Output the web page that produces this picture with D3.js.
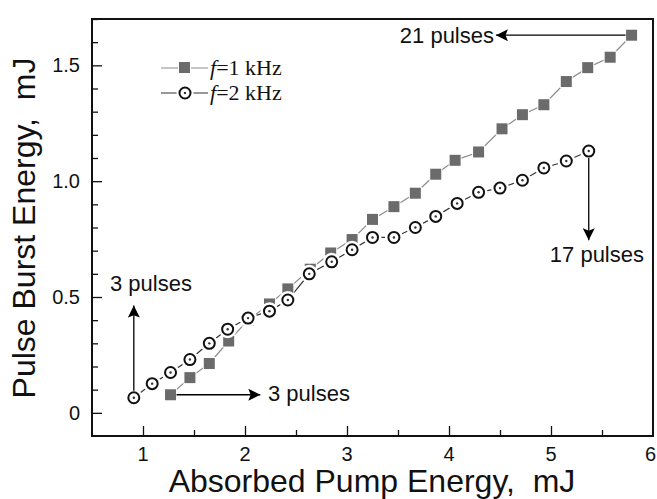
<!DOCTYPE html>
<html>
<head>
<meta charset="utf-8">
<script src="https://cdn.jsdelivr.net/npm/d3@7"></script>
<style>
body{margin:0;background:#fff;}
text{font-family:Arial,"Liberation Sans",sans-serif;fill:#111;white-space:pre;}
</style>
</head>
<body>
<svg id="chart" width="657" height="499"></svg>
<script>
// f = 1 kHz (squares)
var x1k = [1.27,1.46,1.65,1.84,2.03,2.24,2.42,2.64,2.84,3.05,3.25,3.46,3.67,3.87,4.06,4.29,4.52,4.72,4.93,5.15,5.36,5.58,5.79];
var y1k = [0.078,0.152,0.213,0.31,0.40,0.47,0.535,0.62,0.69,0.748,0.835,0.89,0.948,1.03,1.09,1.126,1.226,1.287,1.33,1.43,1.49,1.535,1.63];
// f = 2 kHz (circles)
var x2k = [0.91,1.09,1.27,1.46,1.65,1.83,2.03,2.24,2.42,2.63,2.85,3.05,3.25,3.46,3.67,3.87,4.08,4.29,4.50,4.72,4.93,5.15,5.37];
var y2k = [0.065,0.126,0.174,0.230,0.300,0.361,0.409,0.439,0.487,0.600,0.652,0.704,0.757,0.757,0.800,0.848,0.904,0.952,0.970,1.004,1.057,1.087,1.130];
var xTicks = [1,2,3,4,5,6];
var yTicks = [0,0.5,1.0,1.5];
var yTickLabels = ["0","0.5","1.0","1.5"];

var W=657,H=499;
var m={left:92,top:19,right:4,bottom:63};
var svg=d3.select("#chart");
var x=d3.scaleLinear().domain([0.5,6]).range([m.left,W-m.right]);
var y=d3.scaleLinear().domain([-0.1,1.7]).range([H-m.bottom,m.top]);

// axes, ticks inward
var xAx=d3.axisBottom(x).tickValues(d3.range(1,6.01,0.5)).tickSize(-8).tickFormat("");
var gx=svg.append("g").attr("transform","translate(0,"+(H-m.bottom)+")").call(xAx);
gx.selectAll(".tick line").attr("y2",function(d){return Math.abs(d%1)<1e-6?-10:-6;}).attr("stroke","#111").attr("stroke-width",1.3);
gx.select(".domain").remove();
gx.selectAll(".tick").filter(function(d){return d>=5.99;}).remove();
svg.selectAll("text.xl").data(xTicks).enter().append("text").attr("class","xl")
  .attr("x",function(d){return d==6?W-1:x(d);}).attr("y",461)
  .attr("text-anchor",function(d){return d==6?"end":"middle";}).attr("font-size","20px").text(function(d){return d;});

var yAx=d3.axisLeft(y).tickValues(d3.range(-0.0,1.71,0.1)).tickSize(-8).tickFormat("");
var gy=svg.append("g").attr("transform","translate("+m.left+",0)").call(yAx);
gy.selectAll(".tick line").attr("x2",function(d,i){return i%5==0?10:6;}).attr("stroke","#111").attr("stroke-width",1.3);
gy.select(".domain").remove();
svg.selectAll("text.yl").data(yTicks).enter().append("text").attr("class","yl")
  .attr("x",m.left-12).attr("y",function(d){return y(d)+7;}).attr("text-anchor","end").attr("font-size","20px")
  .text(function(d,i){return yTickLabels[i];});

svg.append("rect").attr("x",m.left).attr("y",m.top).attr("width",W-m.left-m.right).attr("height",H-m.top-m.bottom)
  .attr("fill","none").attr("stroke","#111").attr("stroke-width",2);

// axis titles
svg.append("text").attr("x",372).attr("y",492).attr("text-anchor","middle").attr("font-size","32px").text("Absorbed Pump Energy,  mJ");
svg.append("text").attr("transform","translate(35,228) rotate(-90)").attr("text-anchor","middle").attr("font-size","32px").text("Pulse Burst Energy,  mJ");

// lines
var d1=x1k.map(function(v,i){return [v,y1k[i]];});
var d2=x2k.map(function(v,i){return [v,y2k[i]];});
var line=d3.line().x(function(d){return x(d[0]);}).y(function(d){return y(d[1]);});
svg.append("path").datum(d1).attr("d",line).attr("fill","none").attr("stroke","#8c8c8c").attr("stroke-width",1.2);
svg.append("path").datum(d2).attr("d",line).attr("fill","none").attr("stroke","#333").attr("stroke-width",1.2);

// markers
svg.selectAll("rect.sq").data(d1).enter().append("rect").attr("class","sq")
  .attr("x",function(d){return x(d[0])-5.5;}).attr("y",function(d){return y(d[1])-5.5;})
  .attr("width",11).attr("height",11).attr("fill","#6b6b6b").attr("stroke","#fff").attr("stroke-width",2).attr("paint-order","stroke");
svg.selectAll("circle.ci").data(d2).enter().append("circle").attr("class","ci")
  .attr("cx",function(d){return x(d[0]);}).attr("cy",function(d){return y(d[1]);})
  .attr("r",6.5).attr("fill","#fff").attr("stroke","#fff").attr("stroke-width",5);
svg.selectAll("circle.co").data(d2).enter().append("circle").attr("class","co")
  .attr("cx",function(d){return x(d[0]);}).attr("cy",function(d){return y(d[1]);})
  .attr("r",5.5).attr("fill","#fff").attr("stroke","#111").attr("stroke-width",2);
svg.selectAll("circle.cd").data(d2).enter().append("circle").attr("class","cd")
  .attr("cx",function(d){return x(d[0]);}).attr("cy",function(d){return y(d[1]);})
  .attr("r",1.2).attr("fill","#333");

// arrows
var defs=svg.append("defs");
defs.append("marker").attr("id","ah").attr("viewBox","0 0 10 10").attr("refX",10).attr("refY",5)
  .attr("markerWidth",21).attr("markerHeight",12).attr("markerUnits","userSpaceOnUse").attr("orient","auto")
  .append("path").attr("d","M0,0L10,5L0,10L2,5Z").attr("fill","#000");
function arrow(x0,y0,x1,y1){
  svg.append("line").attr("x1",x0).attr("y1",y0).attr("x2",x1).attr("y2",y1)
    .attr("stroke","#000").attr("stroke-width",1.3).attr("marker-end","url(#ah)");
}
var f2=d2[0], f1=d1[0], l1=d1[d1.length-1], l2=d2[d2.length-1];
arrow(x(f2[0]),y(f2[1])-7,x(f2[0]),y(0.463));
arrow(x(f1[0])+6,y(f1[1]),x(2.15),y(f1[1]));
arrow(x(l1[0])-6,y(l1[1]),x(4.46),y(l1[1]));
arrow(x(l2[0]),y(l2[1])+7,x(l2[0]),y(0.745));
svg.append("text").attr("x",110).attr("y",291).attr("font-size","22px").text("3 pulses");
svg.append("text").attr("x",268).attr("y",401).attr("font-size","22px").text("3 pulses");
svg.append("text").attr("x",494).attr("y",43).attr("text-anchor","end").attr("font-size","22px").text("21 pulses");
svg.append("text").attr("x",644).attr("y",262).attr("text-anchor","end").attr("font-size","22px").text("17 pulses");

// legend
var lg=svg.append("g");
lg.append("line").attr("x1",161).attr("x2",208).attr("y1",68).attr("y2",68).attr("stroke","#8c8c8c").attr("stroke-width",1.2);
lg.append("rect").attr("x",179).attr("y",62).attr("width",11).attr("height",11).attr("fill","#6b6b6b").attr("stroke","#fff").attr("stroke-width",2).attr("paint-order","stroke");
lg.append("line").attr("x1",161).attr("x2",208).attr("y1",93).attr("y2",93).attr("stroke","#333").attr("stroke-width",1.2);
lg.append("circle").attr("cx",185).attr("cy",93).attr("r",6.5).attr("fill","#fff").attr("stroke","#fff").attr("stroke-width",4);
lg.append("circle").attr("cx",185).attr("cy",93).attr("r",5.5).attr("fill","#fff").attr("stroke","#111").attr("stroke-width",2);
lg.append("circle").attr("cx",185).attr("cy",93).attr("r",1.2).attr("fill","#333");
var legTxt=[["=1 kHz",75],["=2 kHz",100]];
legTxt.forEach(function(t){
  var tx=lg.append("text").attr("x",210).attr("y",t[1]).attr("font-size","22px").style("font-family","'Liberation Serif','Times New Roman',serif");
  tx.append("tspan").attr("font-style","italic").text("f");
  tx.append("tspan").text(t[0]);
});
</script>
</body>
</html>
